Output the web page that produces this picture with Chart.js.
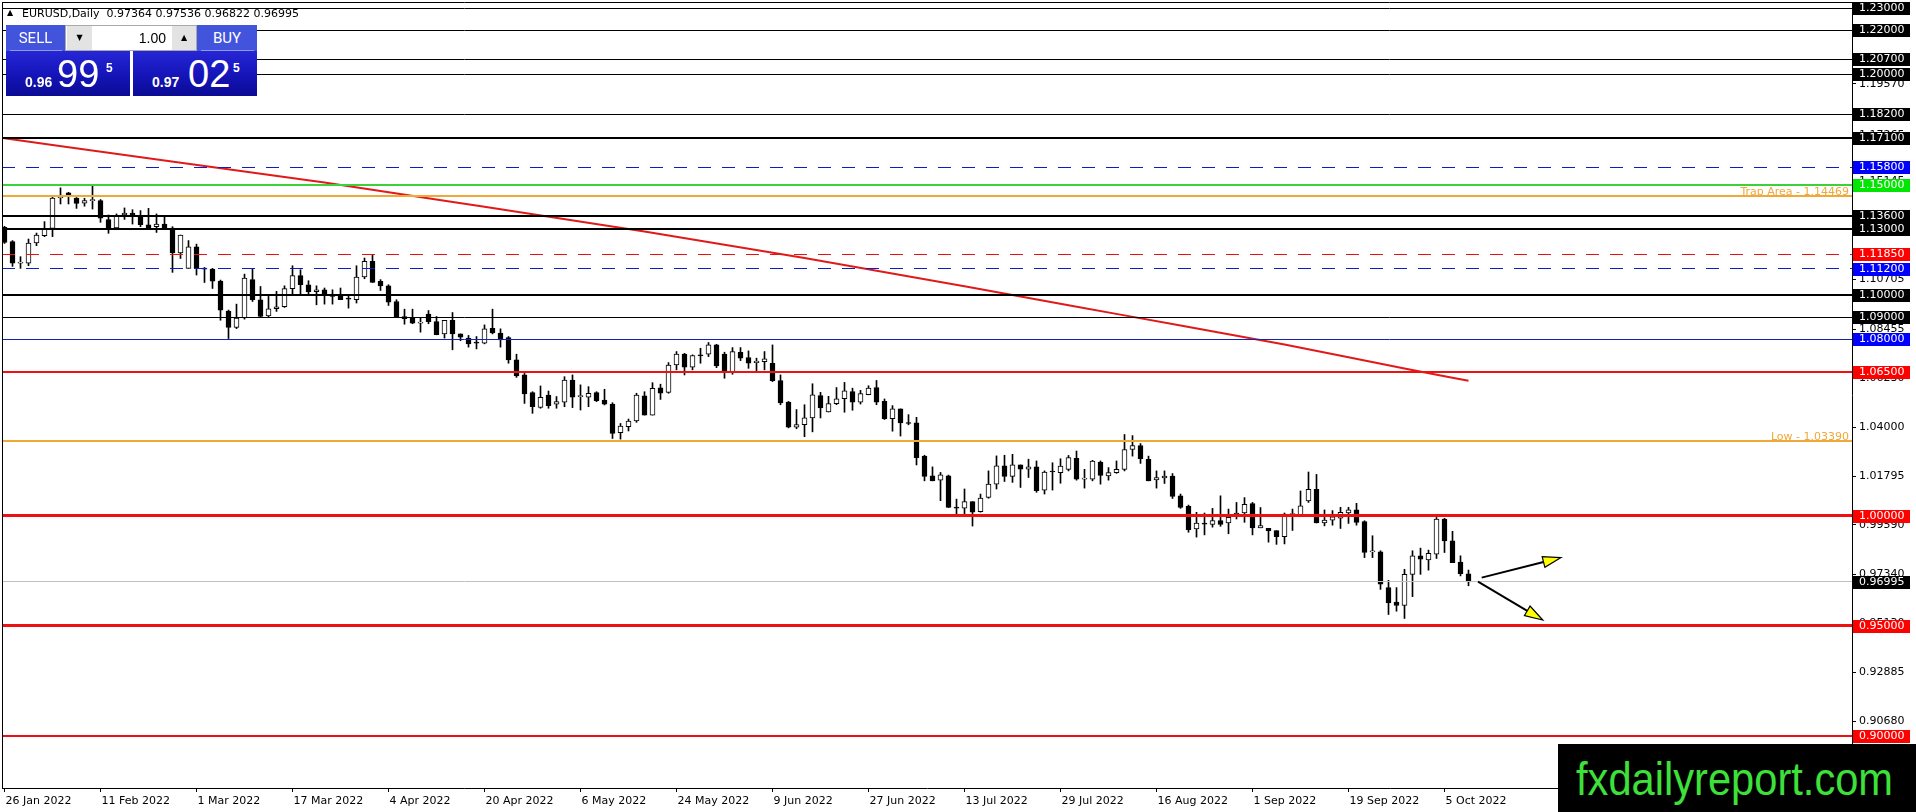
<!DOCTYPE html>
<html><head><meta charset="utf-8">
<script src="https://cdn.jsdelivr.net/npm/chart.js@4.4.1/dist/chart.umd.min.js"></script>
<style>
html,body{margin:0;padding:0;background:#fff;overflow:hidden;}
#wrap{position:relative;width:1916px;height:812px;}
#c{position:absolute;left:0;top:0;}
.a{position:absolute;box-sizing:border-box;}
.hdr{font-family:'DejaVu Sans',sans-serif;font-size:11px;line-height:13px;color:#000;white-space:pre;}
.btn{font-family:Roboto,'Liberation Sans',sans-serif;font-size:15px;color:#fff;text-align:center;line-height:26px;background:#4254dc;}
.big{background:linear-gradient(#2626d6,#1414b8 55%,#0b0b94);}
.w{font-family:'Liberation Sans',Arial,sans-serif;color:#fff;white-space:nowrap;line-height:1;}
</style></head><body>
<div id="wrap">
<canvas id="c" width="1916" height="812"></canvas>

<div class="a hdr" style="left:7px;top:6px;font-size:8px;">▲</div>
<div class="a hdr" style="left:22px;top:7px;">EURUSD,Daily  0.97364 0.97536 0.96822 0.96995</div>

<div class="a" style="left:6px;top:25px;width:251px;height:71px;background:#fff;"></div>
<div class="a btn" style="left:6px;top:25px;width:59px;height:26px;">SELL</div>
<div class="a" style="left:10px;top:50px;width:52px;height:1px;background:#8f99ec;"></div>
<div class="a big" style="left:6px;top:51px;width:124px;height:45px;">
  <span class="a w" style="left:19px;top:24px;font-size:14px;font-weight:bold;">0.96</span>
  <span class="a w" style="left:51px;top:4px;font-size:38px;">99</span>
  <span class="a w" style="left:100px;top:11px;font-size:12px;font-weight:bold;">5</span>
</div>
<div class="a btn" style="left:197px;top:25px;width:60px;height:26px;">BUY</div>
<div class="a" style="left:201px;top:50px;width:53px;height:1px;background:#8f99ec;"></div>
<div class="a big" style="left:133px;top:51px;width:124px;height:45px;">
  <span class="a w" style="left:19px;top:24px;font-size:14px;font-weight:bold;">0.97</span>
  <span class="a w" style="left:55px;top:4px;font-size:38px;">02</span>
  <span class="a w" style="left:100px;top:11px;font-size:12px;font-weight:bold;">5</span>
</div>
<div class="a" style="left:65px;top:25px;width:132px;height:26px;border:1px solid #a9a9a9;background:#fff;">
  <div class="a" style="left:1px;top:0;width:25px;height:24px;background:#e3e3e3;font-family:'DejaVu Sans',sans-serif;font-size:8px;line-height:24px;text-align:center;color:#000;">▼</div>
  <div class="a" style="left:26px;top:0;width:80px;height:24px;font-family:'Liberation Sans',Arial,sans-serif;font-size:14px;line-height:24px;text-align:right;padding-right:6px;color:#000;">1.00</div>
  <div class="a" style="left:106px;top:0;width:24px;height:24px;background:#e3e3e3;font-family:'DejaVu Sans',sans-serif;font-size:8px;line-height:24px;text-align:center;color:#000;">▲</div>
</div>

<div class="a" style="left:1558px;top:744px;width:358px;height:68px;background:#000;"></div>
<div class="a" style="left:1576px;top:755px;font-family:'Liberation Sans',Arial,sans-serif;font-size:47px;line-height:47px;color:#3ee03a;white-space:nowrap;transform:scaleX(0.886);transform-origin:0 0;">fxdailyreport.com</div>
</div>

<script>
// ---- candle data (daily EURUSD, bar 0 = 26 Jan 2022) ----
const opens = [
1.1307,1.1242,1.1145,1.1145,1.1236,1.1269,1.1302,1.1440,1.1464,1.1440,
1.1417,1.1428,1.1428,1.1342,1.1304,1.1363,1.1372,1.1357,1.1319,1.1310,
1.1322,1.1304,1.1191,1.1121,1.1219,1.1121,1.1118,1.1063,1.0927,1.0853,
1.0896,1.1070,1.0979,1.0906,1.0938,1.0947,1.1029,1.1088,1.1047,1.1015,
1.1024,1.1000,1.0997,1.0983,1.0979,1.1082,1.1153,1.1062,1.1042,1.0971,
1.0903,1.0896,1.0873,1.0914,1.0880,1.0824,1.0885,1.0824,1.0805,1.0784,
1.0782,1.0849,1.0828,1.0807,1.0706,1.0638,1.0558,1.0491,1.0547,1.0505,
1.0514,1.0615,1.0540,1.0537,1.0558,1.0524,1.0506,1.0376,1.0403,1.0429,
1.0543,1.0456,1.0580,1.0559,1.0683,1.0732,1.0673,1.0729,1.0732,1.0774,
1.0732,1.0650,1.0741,1.0717,1.0694,1.0698,1.0691,1.0612,1.0515,1.0401,
1.0413,1.0443,1.0544,1.0470,1.0508,1.0530,1.0563,1.0515,1.0548,1.0581,
1.0518,1.0440,1.0484,1.0421,1.0421,1.0270,1.0181,1.0161,1.0181,1.0038,
1.0034,1.0064,1.0018,1.0083,1.0143,1.0226,1.0178,1.0230,1.0211,1.0221,
1.0116,1.0201,1.0195,1.0210,1.0260,1.0166,1.0165,1.0243,1.0180,1.0195,
1.0210,1.0300,1.0318,1.0255,1.0162,1.0171,1.0180,1.0090,1.0042,0.9940,
0.9967,0.9960,0.9978,0.9967,1.0000,1.0012,1.0055,0.9945,0.9943,0.9932,
0.9905,1.0005,1.0003,1.0067,1.0120,0.9967,0.9980,0.9989,1.0012,1.0027,
0.9973,0.9836,0.9836,0.9674,0.9608,0.9593,0.9734,0.9818,0.9800,0.9825,
0.9985,0.9886,0.9790,0.97364];
const highs = [
1.1312,1.1247,1.1174,1.1254,1.1281,1.1333,1.1443,1.1486,1.1466,1.1442,
1.1439,1.1496,1.1433,1.1363,1.1368,1.1395,1.1387,1.1383,1.1393,1.1368,
1.1357,1.1310,1.1272,1.1247,1.1231,1.1125,1.1121,1.1068,1.0932,1.0959,
1.1095,1.1120,1.1039,1.0994,1.1017,1.1042,1.1133,1.1115,1.1065,1.1042,
1.1032,1.1024,1.1032,1.0997,1.1133,1.1168,1.1183,1.1070,1.1047,1.0979,
1.0936,1.0936,1.0896,1.0930,1.0903,1.0885,1.0921,1.0824,1.0817,1.0812,
1.0865,1.0936,1.0847,1.0812,1.0732,1.0645,1.0562,1.0588,1.0565,1.0540,
1.0630,1.0638,1.0593,1.0585,1.0562,1.0573,1.0512,1.0418,1.0438,1.0555,
1.0562,1.0603,1.0596,1.0694,1.0744,1.0736,1.0729,1.0759,1.0785,1.0777,
1.0741,1.0762,1.0762,1.0747,1.0714,1.0744,1.0774,1.0638,1.0518,1.0481,
1.0503,1.0598,1.0559,1.0541,1.0581,1.0604,1.0578,1.0568,1.0589,1.0613,
1.0529,1.0499,1.0484,1.0458,1.0446,1.0274,1.0221,1.0196,1.0184,1.0075,
1.0121,1.0064,1.0098,1.0203,1.0271,1.0274,1.0278,1.0230,1.0256,1.0248,
1.0203,1.0240,1.0258,1.0273,1.0293,1.0210,1.0251,1.0248,1.0218,1.0248,
1.0368,1.0363,1.0327,1.0270,1.0203,1.0203,1.0191,1.0098,1.0048,1.0015,
1.0012,1.0033,1.0090,1.0030,1.0060,1.0082,1.0060,1.0037,0.9943,0.9932,
1.0012,1.0030,1.0112,1.0198,1.0187,1.0026,1.0023,1.0038,1.0038,1.0056,
0.9977,0.9909,0.9841,0.9707,0.9674,0.9757,0.9841,0.9853,0.9844,0.9992,
0.9988,0.9929,0.9818,0.97536];
const lows = [
1.1234,1.1130,1.1121,1.1133,1.1224,1.1265,1.1265,1.1413,1.1413,1.1393,
1.1403,1.1390,1.1330,1.1280,1.1302,1.1343,1.1322,1.1310,1.1302,1.1284,
1.1302,1.1103,1.1166,1.1121,1.1091,1.1057,1.1030,1.0886,1.0803,1.0848,
1.0891,1.0971,1.0899,1.0899,1.0926,1.0944,1.1002,1.1002,1.1002,1.0956,
1.0959,1.0959,1.0979,1.0941,1.0964,1.1074,1.1057,1.1021,1.0953,1.0899,
1.0868,1.0870,1.0832,1.0870,1.0820,1.0805,1.0752,1.0793,1.0764,1.0756,
1.0779,1.0824,1.0764,1.0691,1.0627,1.0509,1.0464,1.0487,1.0487,1.0487,
1.0494,1.0490,1.0479,1.0494,1.0517,1.0502,1.0350,1.0347,1.0384,1.0423,
1.0456,1.0456,1.0527,1.0555,1.0661,1.0638,1.0661,1.0691,1.0721,1.0671,
1.0623,1.0641,1.0703,1.0668,1.0656,1.0661,1.0608,1.0503,1.0398,1.0394,
1.0358,1.0380,1.0443,1.0470,1.0503,1.0469,1.0478,1.0506,1.0548,1.0503,
1.0436,1.0383,1.0361,1.0412,1.0230,1.0158,1.0158,1.0068,1.0037,1.0008,
1.0008,0.9953,1.0016,1.0079,1.0121,1.0155,1.0151,1.0128,1.0173,1.0106,
1.0098,1.0116,1.0147,1.0203,1.0161,1.0125,1.0158,1.0143,1.0161,1.0192,
1.0203,1.0270,1.0237,1.0158,1.0125,1.0146,1.0078,1.0033,0.9925,0.9903,
0.9913,0.9948,0.9952,0.9918,0.9985,0.9970,0.9913,0.9945,0.9880,0.9870,
0.9872,0.9933,1.0003,1.0060,0.9967,0.9954,0.9957,0.9942,0.9965,0.9957,
0.9810,0.9810,0.9666,0.9552,0.9567,0.9534,0.9633,0.9734,0.9753,0.9806,
0.9833,0.9787,0.9727,0.96822];
const closes = [
1.1239,1.1145,1.1147,1.1236,1.1272,1.1299,1.1440,1.1445,1.1448,1.1416,
1.1428,1.1430,1.1349,1.1304,1.1357,1.1372,1.1363,1.1319,1.1304,1.1322,
1.1304,1.1191,1.1272,1.1219,1.1121,1.1118,1.1063,1.0932,1.0853,1.0896,
1.1077,1.0979,1.0903,1.0938,1.0947,1.1029,1.1088,1.1047,1.1014,1.1024,
1.1002,1.0994,1.0979,1.0982,1.1082,1.1153,1.1057,1.1042,1.0968,1.0899,
1.0893,1.0873,1.0875,1.0880,1.0820,1.0885,1.0824,1.0809,1.0779,1.0782,
1.0847,1.0828,1.0797,1.0706,1.0633,1.0552,1.0494,1.0537,1.0499,1.0517,
1.0615,1.0537,1.0542,1.0555,1.0521,1.0505,1.0373,1.0406,1.0429,1.0547,
1.0456,1.0577,1.0555,1.0683,1.0732,1.0673,1.0726,1.0724,1.0774,1.0679,
1.0650,1.0744,1.0714,1.0691,1.0701,1.0711,1.0612,1.0511,1.0401,1.0413,
1.0443,1.0548,1.0488,1.0508,1.0530,1.0566,1.0515,1.0553,1.0578,1.0515,
1.0440,1.0484,1.0421,1.0418,1.0263,1.0178,1.0158,1.0185,1.0037,1.0034,
1.0064,1.0016,1.0080,1.0143,1.0226,1.0178,1.0230,1.0211,1.0221,1.0113,
1.0198,1.0198,1.0225,1.0263,1.0165,1.0168,1.0248,1.0183,1.0195,1.0210,
1.0300,1.0318,1.0258,1.0158,1.0173,1.0180,1.0087,1.0038,0.9937,0.9967,
0.9961,0.9978,0.9960,0.9993,1.0012,1.0052,0.9945,0.9955,0.9931,0.9905,
1.0007,1.0009,1.0045,1.0120,0.9967,0.9980,0.9995,1.0015,1.0026,0.9970,
0.9833,0.9837,0.9689,0.9605,0.9593,0.9734,0.9818,0.9803,0.9829,0.9985,
0.9886,0.9787,0.9737,0.96995];

// ---- moving average readings (bar index, value) ----
const maBars   = [0, 20, 40, 60, 80, 100, 120, 140, 160, 175, 183];
const maValues = [1.1711, 1.1610, 1.1510, 1.1400, 1.1288, 1.1168, 1.1040, 1.0908, 1.0776, 1.0667, 1.0612];

// ---- axis ticks ----
const xTickBars   = [0, 12, 24, 36, 48, 60, 72, 84, 96, 108, 120, 132, 144, 156, 168, 180];
const xTickLabels = ["26 Jan 2022","11 Feb 2022","1 Mar 2022","17 Mar 2022","4 Apr 2022","20 Apr 2022",
  "6 May 2022","24 May 2022","9 Jun 2022","27 Jun 2022","13 Jul 2022","29 Jul 2022","16 Aug 2022",
  "1 Sep 2022","19 Sep 2022","5 Oct 2022"];
const yTicks = [1.21875, 1.19570, 1.17265, 1.15145, 1.12925, 1.10705, 1.08455, 1.06230, 1.04000,
  1.01795, 0.99590, 0.97340, 0.95130, 0.92885, 0.90680, 0.88475];

// ---- horizontal levels ----
const levelPrices = [1.23, 1.22, 1.207, 1.20, 1.182, 1.171, 1.158, 1.15, 1.14469, 1.136, 1.13,
  1.1185, 1.112, 1.10, 1.09, 1.08, 1.065, 1.0339, 1.00, 0.96995, 0.95, 0.90];
const levelKinds  = ['k1','k1','k1','k1','k1','k2','bd','g','o','k2','k2',
  'rd','bd','k2','k1','b1','r2','o','r3','cur','r3','r2'];
const noteTexts  = ["Trap Area - 1.14469", "Low - 1.03390"];
const notePrices = [1.14469, 1.0339];

// ---- arrows (bar index, price) ----
const arrowFrom = [[184.65, 0.97193], [184.19, 0.97011]];
const arrowTo   = [[194.56, 0.98101], [192.28, 0.95272]];

// ---- styles ----
const KIND = {
  k1:{c:'#000', w:1, box:'#000'}, k2:{c:'#000', w:2, box:'#000'},
  bd:{c:'#0a1ec4', w:1, dash:true, box:'#0000ff'}, b1:{c:'#1424b0', w:1, box:'#0000ff'},
  g:{c:'#3ad13a', w:2, box:'#00e600'}, o:{c:'#f0a838', w:2, box:null},
  rd:{c:'#e81010', w:1, dash:true, box:'#ff0000'}, r2:{c:'#ee1111', w:2, box:'#ff0000'},
  r3:{c:'#ee1111', w:3, box:'#ff0000'}, cur:{c:'#c0c0c0', w:1, box:'#000'}
};
const FONT = "'DejaVu Sans', sans-serif";

const idx = opens.map((_, i) => i);
const wickData = idx.map(i => ({x: i, y: [lows[i], highs[i]]}));
const bodyData = idx.map(i => ({x: i, y: [opens[i], closes[i]]}));
const bodyColors = idx.map(i => closes[i] >= opens[i] ? '#ffffff' : '#000000');
const maData = maBars.map((b, i) => ({x: b, y: maValues[i]}));

function drawArrow(ctx, x1, y1, x2, y2) {
  const ang = Math.atan2(y2 - y1, x2 - x1);
  const L = 18, W = 5.5;
  const bx = x2 - L * Math.cos(ang), by = y2 - L * Math.sin(ang);
  ctx.setLineDash([]);
  ctx.strokeStyle = '#000'; ctx.lineWidth = 2;
  ctx.beginPath(); ctx.moveTo(x1, y1); ctx.lineTo(bx, by); ctx.stroke();
  ctx.beginPath(); ctx.moveTo(x2, y2);
  ctx.lineTo(bx + W * Math.sin(ang), by - W * Math.cos(ang));
  ctx.lineTo(bx - W * Math.sin(ang), by + W * Math.cos(ang));
  ctx.closePath(); ctx.fillStyle = '#ffff00'; ctx.fill();
  ctx.lineWidth = 1.2; ctx.stroke();
}

const overlay = {
  id: 'overlay',
  afterDatasetsDraw(chart) {
    const {ctx, chartArea: a, scales: {x: xs, y: ys}} = chart;
    ctx.save();
    ctx.beginPath(); ctx.rect(a.left, a.top, a.right - a.left, a.bottom - a.top); ctx.clip();
    levelPrices.forEach((p, i) => {
      const s = KIND[levelKinds[i]];
      const raw = ys.getPixelForValue(p);
      const py = (s.w % 2 === 1) ? Math.floor(raw) + 0.5 : Math.round(raw);
      ctx.beginPath();
      ctx.strokeStyle = s.c; ctx.lineWidth = s.w;
      ctx.setLineDash(s.dash ? [13, 11] : []);
      ctx.moveTo(a.left, py); ctx.lineTo(a.right, py); ctx.stroke();
    });
    ctx.setLineDash([]);
    ctx.font = '11px ' + FONT; ctx.fillStyle = '#f0a838';
    ctx.textAlign = 'right'; ctx.textBaseline = 'alphabetic';
    noteTexts.forEach((t, i) => {
      ctx.fillText(t, a.right - 3, Math.round(ys.getPixelForValue(notePrices[i])) - 1);
    });
    arrowFrom.forEach((f, i) => {
      const t = arrowTo[i];
      drawArrow(ctx, xs.getPixelForValue(f[0]), ys.getPixelForValue(f[1]),
                     xs.getPixelForValue(t[0]), ys.getPixelForValue(t[1]));
    });
    ctx.restore();
  },
  afterDraw(chart) {
    const {ctx, chartArea: a, scales: {y: ys}} = chart;
    ctx.save();
    ctx.strokeStyle = '#000'; ctx.lineWidth = 1;
    ctx.beginPath();
    ctx.moveTo(a.left + 0.5, a.top); ctx.lineTo(a.left + 0.5, a.bottom);
    ctx.moveTo(a.left, a.top + 0.5); ctx.lineTo(a.right, a.top + 0.5);
    ctx.stroke();
    ctx.font = '11px ' + FONT; ctx.textAlign = 'left'; ctx.textBaseline = 'middle';
    levelPrices.forEach((p, i) => {
      const s = KIND[levelKinds[i]];
      if (!s.box) return;
      const cy = Math.round(ys.getPixelForValue(p));
      ctx.fillStyle = s.box;
      ctx.fillRect(ys.left + 1, cy - 6, 57, 13);
      ctx.fillStyle = '#fff';
      ctx.fillText(p.toFixed(5), ys.left + 7, cy + 0.5);
    });
    ctx.restore();
  }
};

new Chart(document.getElementById('c'), {
  type: 'bar',
  data: {
    datasets: [
      {type: 'line', data: maData, borderColor: '#e01a1a', borderWidth: 2, pointRadius: 0,
       cubicInterpolationMode: 'monotone', fill: false, order: 0},
      {data: bodyData, backgroundColor: bodyColors, borderColor: '#000', borderWidth: 1,
       borderSkipped: false, barThickness: 5, grouped: false, minBarLength: 1, order: 1},
      {data: wickData, backgroundColor: '#000', borderWidth: 0, barThickness: 1,
       grouped: false, order: 2}
    ]
  },
  options: {
    responsive: false, animation: false,
    layout: {padding: {left: 2, top: 2, right: 0, bottom: 0}},
    plugins: {legend: {display: false}, tooltip: {enabled: false}, title: {display: false}},
    scales: {
      x: {
        type: 'linear', min: -0.3125, max: 230.9375, offset: false,
        grid: {drawOnChartArea: false, drawTicks: true, tickLength: 4, color: '#000', offset: false},
        border: {display: true, color: '#000', width: 1},
        ticks: {autoSkip: false, maxRotation: 0, minRotation: 0, align: 'start', padding: 3,
                labelOffset: 1, color: '#000', font: {family: FONT, size: 11},
                callback: (v, i) => xTickLabels[i]},
        afterBuildTicks: s => { s.ticks = xTickBars.map(v => ({value: v})); },
        afterFit: s => { s.height = 24; s.paddingLeft = 0; s.paddingRight = 0; }
      },
      y: {
        type: 'linear', position: 'right', min: 0.876555, max: 1.232856, beginAtZero: false,
        grid: {drawOnChartArea: false, drawTicks: true, tickLength: 4, color: '#000'},
        border: {display: true, color: '#000', width: 1},
        ticks: {padding: 3, color: '#000', font: {family: FONT, size: 11},
                callback: v => Number(v).toFixed(5)},
        afterBuildTicks: s => { s.ticks = yTicks.map(v => ({value: v})); },
        afterFit: s => { s.width = 64; s.paddingTop = 0; s.paddingBottom = 0; }
      }
    }
  },
  plugins: [overlay]
});
</script>
</body></html>
